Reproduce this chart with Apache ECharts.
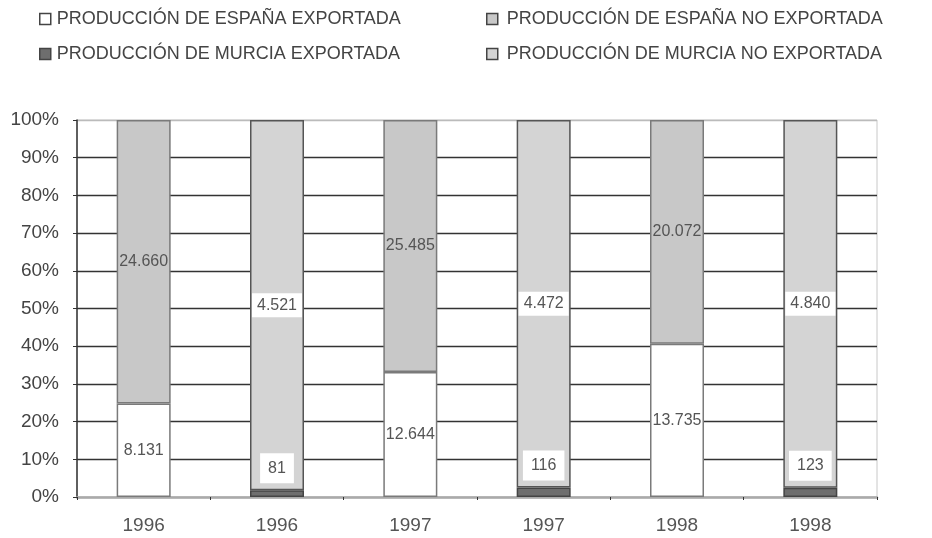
<!DOCTYPE html>
<html>
<head>
<meta charset="utf-8">
<script src="https://cdn.jsdelivr.net/npm/echarts@6/dist/echarts.min.js"></script>
<style>
  html, body { margin: 0; padding: 0; background: #fff; }
  #chart { width: 932px; height: 538px; }
</style>
</head>
<body>
<div id="chart"></div>
<script>
const categories = ['1996', '1996', '1997', '1997', '1998', '1998'];
const yTicks = ['0%', '10%', '20%', '30%', '40%', '50%', '60%', '70%', '80%', '90%', '100%'];

// null where the bar belongs to the other region
const spainExported    = [8131, null, 12644, null, 13735, null];
const spainNotExported = [24660, null, 25485, null, 20072, null];
const murciaExported    = [null, 81, null, 116, null, 123];
const murciaNotExported = [null, 4521, null, 4472, null, 4840];

const names = [
    'PRODUCCIÓN DE ESPAÑA EXPORTADA',
    'PRODUCCIÓN DE ESPAÑA NO EXPORTADA',
    'PRODUCCIÓN DE MURCIA EXPORTADA',
    'PRODUCCIÓN DE MURCIA NO EXPORTADA'
];

const raw = [spainExported, spainNotExported, murciaExported, murciaNotExported];
const totals = categories.map((c, i) => raw.reduce((s, arr) => s + (arr[i] || 0), 0));
const pct = arr => arr.map((v, i) => v == null ? '-' : v / totals[i] * 100);

const fmt = v => String(v).replace(/\B(?=(\d{3})+(?!\d))/g, '.');
const font = 'Liberation Sans';

const labelBase = {
    show: true,
    color: '#555',
    fontSize: 16,
    fontFamily: font
};

const legendPos = [[34, 5], [481, 5], [34, 40], [481, 40]];
const legendPad = [1, 4, 1, 4];

const fills = ['#ffffff', '#c8c8c8', '#6e6e6e', '#d4d4d4'];
const borders = ['#7a7a7a', '#7a7a7a', '#444', '#555'];

const chart = echarts.init(document.getElementById('chart'));

chart.setOption({
    animation: false,
    legend: names.map((n, i) => ({
        data: [n],
        left: legendPos[i][0],
        top: legendPos[i][1],
        icon: 'rect',
        itemWidth: 11,
        itemHeight: 11,
        itemStyle: { borderColor: '#444', borderWidth: 1.5 },
        textStyle: { color: '#444', fontSize: 18, fontFamily: font, padding: [0, 0, 0, legendPad[i]] }
    })),
    grid: {
        left: 77,
        right: 55,
        top: 120,
        bottom: 41,
        show: true,
        borderColor: '#c8c8c8',
        borderWidth: 1
    },
    xAxis: {
        type: 'category',
        data: categories,
        axisLine: { lineStyle: { color: '#aaa', width: 2.5 } },
        axisTick: { show: true, length: 3, lineStyle: { color: '#333' } },
        axisLabel: { color: '#555', fontSize: 19, fontFamily: font, margin: 19 }
    },
    yAxis: {
        type: 'value',
        min: 0,
        max: 100,
        interval: 10,
        axisLine: { show: true, lineStyle: { color: '#333', width: 1.5 } },
        axisTick: { show: true, length: 4, lineStyle: { color: '#333' } },
        axisLabel: {
            color: '#444',
            fontSize: 19,
            fontFamily: font,
            margin: 18,
            formatter: v => yTicks[Math.round(v / 10)]
        },
        splitLine: {
            lineStyle: {
                color: ['#aaa', '#333', '#333', '#333', '#333', '#333', '#333', '#333', '#333', '#333', '#bbb'],
                width: 1.4
            }
        }
    },
    series: [
        {
            name: names[0],
            type: 'bar',
            stack: 'total',
            barWidth: 54,
            data: pct(spainExported),
            itemStyle: { color: fills[0], borderColor: borders[0], borderWidth: 1.5 },
            label: Object.assign({}, labelBase, {
                position: 'inside',
                formatter: p => fmt(spainExported[p.dataIndex])
            })
        },
        {
            name: names[1],
            type: 'bar',
            stack: 'total',
            data: pct(spainNotExported),
            itemStyle: { color: fills[1], borderColor: borders[1], borderWidth: 1.5 },
            label: Object.assign({}, labelBase, {
                position: 'inside',
                formatter: p => fmt(spainNotExported[p.dataIndex])
            })
        },
        {
            name: names[2],
            type: 'bar',
            stack: 'total',
            data: pct(murciaExported),
            itemStyle: { color: fills[2], borderColor: borders[2], borderWidth: 1.5 },
            label: Object.assign({}, labelBase, {
                position: 'top',
                distance: 7,
                backgroundColor: '#fff',
                padding: [7, 8],
                formatter: p => fmt(murciaExported[p.dataIndex])
            })
        },
        {
            name: names[3],
            type: 'bar',
            stack: 'total',
            data: pct(murciaNotExported),
            itemStyle: { color: fills[3], borderColor: borders[3], borderWidth: 1.5 },
            label: Object.assign({}, labelBase, {
                position: 'inside',
                backgroundColor: '#fff',
                padding: [4, 5],
                formatter: p => fmt(murciaNotExported[p.dataIndex])
            })
        }
    ]
});
</script>
</body>
</html>
